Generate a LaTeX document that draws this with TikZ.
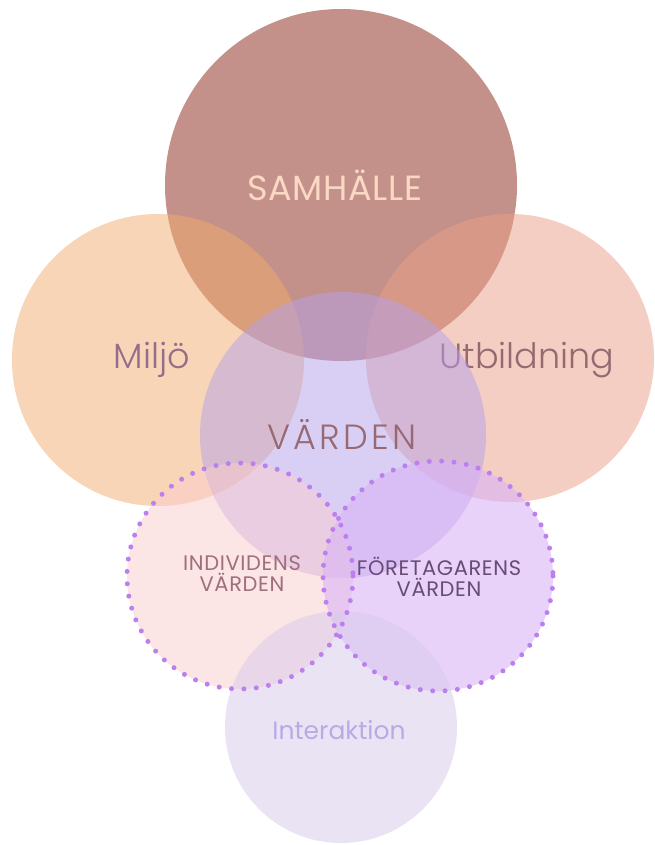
\documentclass[tikz,border=0pt]{standalone}
\usepackage{fontspec}
\setmainfont{Poppins}[UprightFont={* Light}]
\newfontfamily\widefont{Poppins}[UprightFont={* Light},LetterSpace=9]
\newfontfamily\capsfont{Poppins}[LetterSpace=3]
\newfontfamily\titlefont{Poppins}[LetterSpace=2]
\newfontfamily\plainfont{Poppins}

\definecolor{samC}{RGB}{196,145,138}
\definecolor{milC}{RGB}{240,172,110}
\definecolor{utbC}{RGB}{235,159,135}
\definecolor{varC}{RGB}{181,161,235}
\definecolor{indC}{RGB}{251,205,205}
\definecolor{forC}{RGB}{217,180,248}
\definecolor{intC}{RGB}{215,201,235}
\definecolor{dotC}{RGB}{187,127,238}
\definecolor{samT}{RGB}{250,216,196}
\definecolor{milT}{RGB}{150,108,140}
\definecolor{utbT}{RGB}{150,105,112}
\definecolor{varT}{RGB}{150,105,115}
\definecolor{indT}{RGB}{160,110,125}
\definecolor{forT}{RGB}{105,75,120}
\definecolor{intT}{RGB}{185,170,230}

\tikzset{
  dotring/.style={draw=dotC, line width=5pt, line cap=round, dash pattern=on 0pt off 12.4pt},
  label/.style={inner sep=0pt, align=center},
}

\begin{document}
\begin{tikzpicture}[x=1pt,y=-1pt]
  \useasboundingbox (0,0) rectangle (654,845);
  \fill[white] (0,0) rectangle (654,845);

  % outer theme circles
  \fill[samC] (341,185) circle (176);
  \fill[milC, fill opacity=0.5] (158,360) circle (146);
  \fill[utbC, fill opacity=0.5] (510,358) circle (144);

  \node[label, text=samT, font=\titlefont\fontsize{35}{38}\selectfont] (sam) at (335,185) {SAMHÄLLE};
  \node[label, text=milT, font=\fontsize{35}{38}\selectfont] (mil) at (152,360) {Miljö};
  \node[label, text=utbT, font=\fontsize{35}{38}\selectfont] (utb) at (527,360) {Utbildning};

  % central values circle
  \fill[varC, fill opacity=0.5] (343,435) circle (143);
  \node[label, text=varT, font=\widefont\fontsize{35}{38}\selectfont] (var) at (342,434) {VÄRDEN};

  % lower circles
  \fill[indC, fill opacity=0.5] (240,576) circle (113);
  \fill[forC, fill opacity=0.6] (438,576) circle (115);
  \fill[intC, fill opacity=0.5] (341,727) circle (116);

  \draw[dotring] (240,576) circle (113);
  \draw[dotring] (438,576) circle (115);

  \node[label, text=indT, font=\capsfont\fontsize{21}{21}\selectfont] (ind) at (242,574) {INDIVIDENS\\VÄRDEN};
  \node[label, text=forT, font=\capsfont\fontsize{21}{21}\selectfont] (for) at (439,577) {FÖRETAGARENS\\VÄRDEN};
  \node[label, text=intT, font=\plainfont\fontsize{25}{28}\selectfont] (int) at (339,730) {Interaktion};
\end{tikzpicture}
\end{document}
